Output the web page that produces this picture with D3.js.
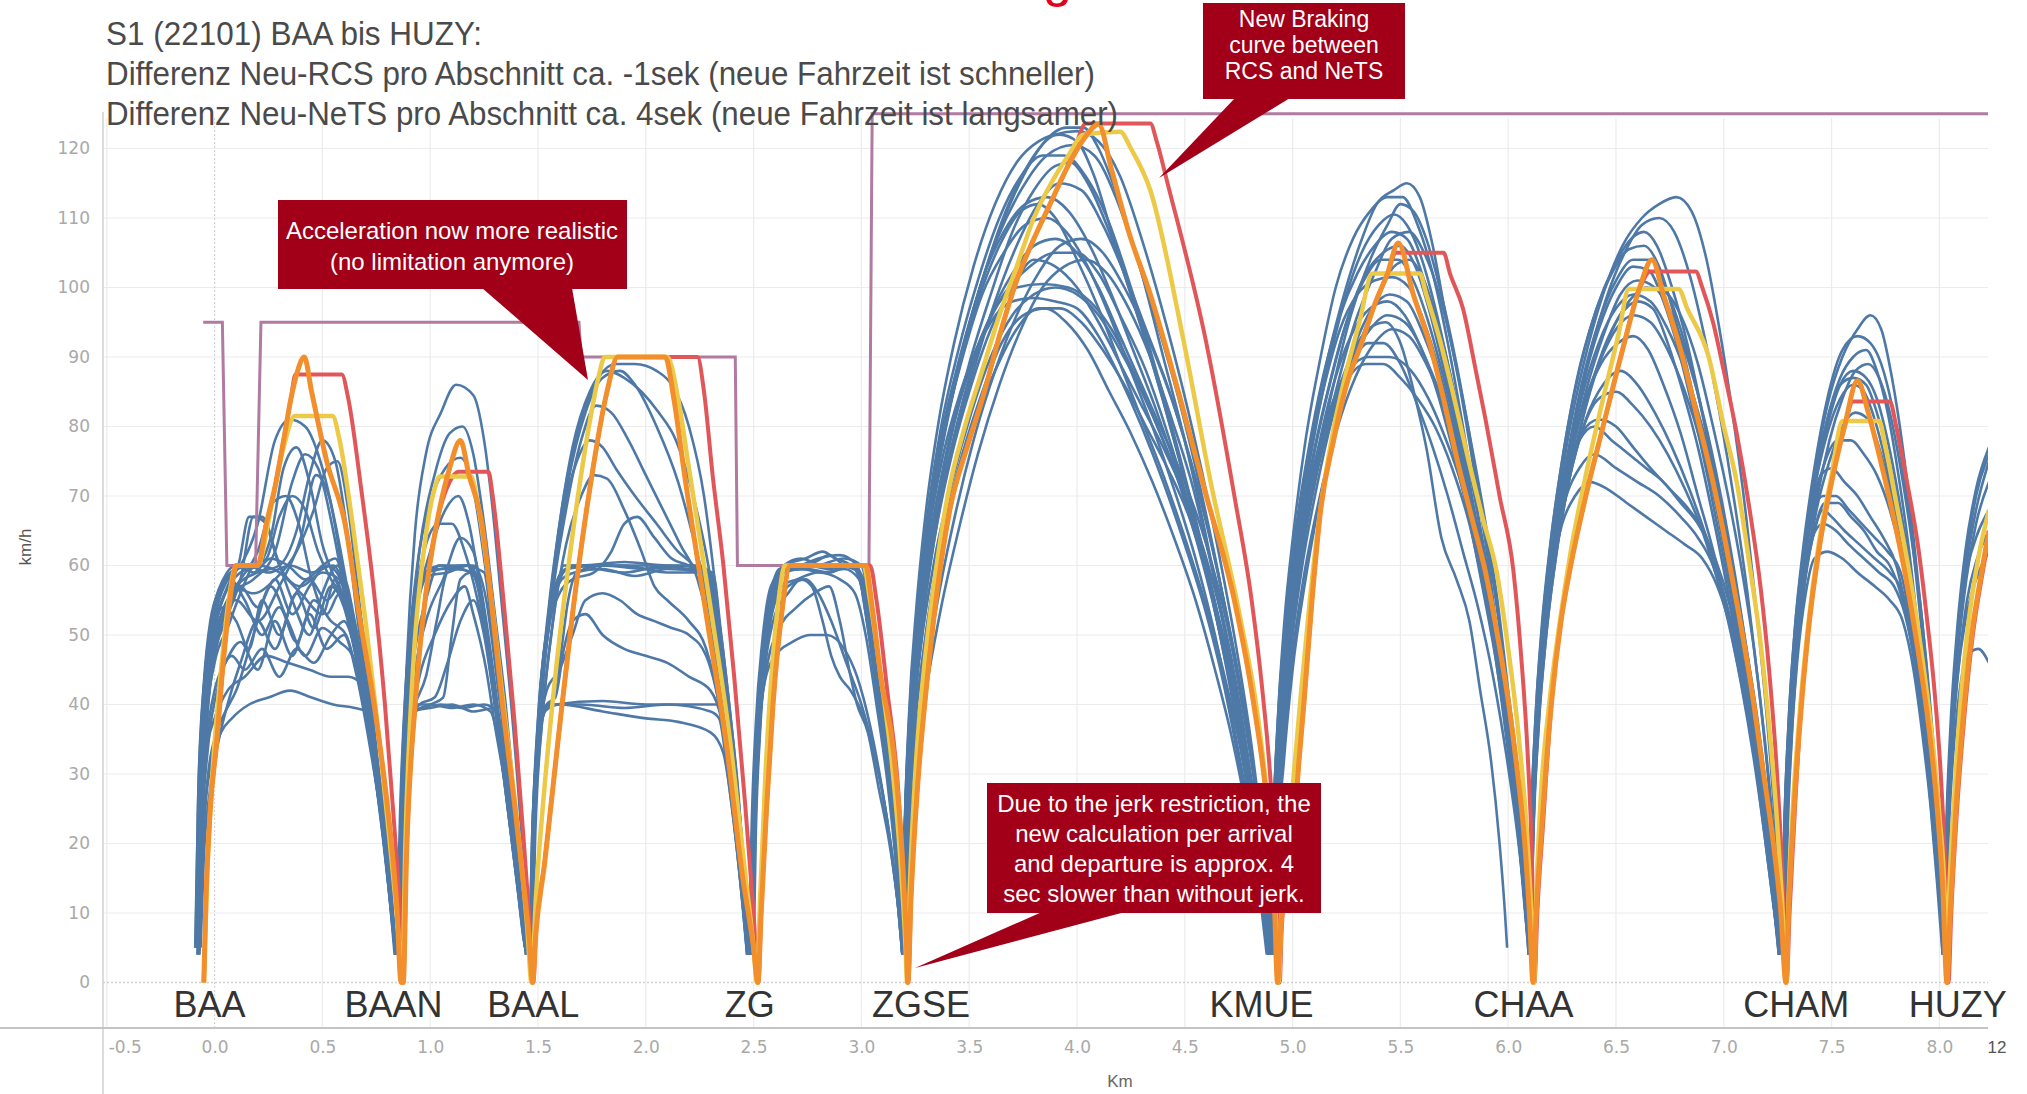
<!DOCTYPE html>
<html>
<head>
<meta charset="utf-8">
<script src="https://cdn.jsdelivr.net/npm/d3@7"></script>
<style>
  html, body { margin: 0; padding: 0; background: #fff; }
  svg { display: block; }
</style>
</head>
<body>
<svg id="chart" width="2027" height="1094"></svg>
<script>
// S1 speed profiles BAA -> HUZY, km vs km/h

const X_TICKS = [-0.5, 0, 0.5, 1, 1.5, 2, 2.5, 3, 3.5, 4, 4.5, 5, 5.5, 6, 6.5, 7, 7.5, 8];
const Y_TICKS = [0, 10, 20, 30, 40, 50, 60, 70, 80, 90, 100, 110, 120];

const stationNames = ['BAA', 'BAAN', 'BAAL', 'ZG', 'ZGSE', 'KMUE', 'CHAA', 'CHAM', 'HUZY'];
const stationLabelKm = [-0.024, 0.83, 1.478, 2.482, 3.276, 4.856, 6.071, 7.336, 8.085];

const titleLines = [
    'S1 (22101) BAA bis HUZY:',
    'Differenz Neu-RCS pro Abschnitt ca. -1sek (neue Fahrzeit ist schneller)',
    'Differenz Neu-NeTS pro Abschnitt ca. 4sek (neue Fahrzeit ist langsamer)'
];

// speed limit (purple)
const speedLimit = [[-0.053,95],[0.036,95],[0.057,60],[0.19,60],[0.215,95],[1.69,95],[1.70,90],[2.415,90],[2.425,60],[3.035,60],[3.05,125],[8.23,125]];

// calculated runs
const calcOrange = [
    [-0.05,0],[-0.04,12],[-0.02,25],[0.008,34],[0.04,46],[0.085,58],[0.1,60],[0.2,60],[0.24,66],[0.278,71],[0.32,78],[0.354,84],[0.385,88],[0.416,90],[0.45,85],[0.52,75],[0.605,66],[0.67,53],[0.74,40],[0.78,31],[0.817,21],[0.845,11],[0.865,0],
    [0.875,0],[0.89,18],[0.93,40],[0.98,56],[1.03,66],[1.09,74],[1.14,78],[1.18,73],[1.24,66],[1.29,53],[1.335,40],[1.39,26],[1.43,15],[1.46,6],[1.475,0],
    [1.49,7],[1.53,17],[1.59,34],[1.66,53],[1.74,71],[1.82,85],[1.87,90],[2.09,90],[2.13,84],[2.18,73],[2.28,53],[2.375,34],[2.45,15],[2.5,5],[2.52,0],
    [2.535,10],[2.56,25],[2.59,40],[2.63,53],[2.67,60],[3.02,60],[3.05,54],[3.09,44],[3.15,33],[3.19,18],[3.21,5],[3.215,0],
    [3.23,12],[3.26,28],[3.3,42],[3.35,56],[3.41,68],[3.49,77],[3.565,84.4],[3.64,93],[3.72,101],[3.8,107],[3.875,112],[3.95,117],[4.03,121.3],[4.1,123.5],[4.16,117],[4.24,108],[4.34,99],[4.47,85],[4.6,70],[4.73,55],[4.82,40],[4.88,26],[4.915,12],[4.93,0],
    [4.945,8],[4.97,14],[5.0,20],[5.03,32],[5.052,40],[5.09,55],[5.13,68],[5.19,78],[5.25,86],[5.32,92],[5.38,97.5],[5.44,102],[5.49,106.4],[5.56,99],[5.635,92],[5.7,84],[5.765,75],[5.83,67],[5.895,59],[5.95,50],[6.0,40.6],[6.04,31],[6.077,20],[6.1,9],[6.115,0],
    [6.13,10],[6.155,22],[6.2,40],[6.245,52],[6.29,60],[6.36,70],[6.44,80],[6.53,91],[6.61,100],[6.667,104],[6.72,99],[6.8,91],[6.88,81],[6.95,72],[7.01,63],[7.07,53],[7.13,42],[7.18,31],[7.23,20],[7.265,10],[7.288,0],
    [7.3,10],[7.32,22],[7.35,36],[7.39,50],[7.44,62],[7.5,72],[7.56,80],[7.62,86.6],[7.67,82],[7.72,76],[7.78,68],[7.84,59],[7.9,48],[7.95,37],[7.99,25],[8.015,14],[8.035,0],
    [8.05,10],[8.075,24],[8.11,38],[8.15,50],[8.19,58],[8.23,65]
];

const calcYellow = [
    [-0.05,0],[-0.035,15],[-0.01,30],[0.03,45],[0.07,56],[0.1,60],[0.2,60],[0.26,68],[0.32,77],[0.372,81.5],[0.547,81.5],[0.58,78],[0.64,66],[0.7,52],[0.76,36],[0.81,21],[0.85,8],[0.87,0],
    [0.885,20],[0.92,45],[0.97,62],[1.02,71],[1.045,72.8],[1.19,72.8],[1.22,69],[1.28,56],[1.34,40],[1.4,24],[1.45,8],[1.47,0],
    [1.49,12],[1.53,28],[1.58,44],[1.65,62],[1.72,77],[1.78,87],[1.81,90],[2.1,90],[2.15,84],[2.2,74],[2.3,54],[2.39,35],[2.46,16],[2.5,5],[2.515,0],
    [2.53,12],[2.555,30],[2.585,45],[2.62,56],[2.645,60],[3.01,60],[3.04,55],[3.09,44],[3.14,32],[3.18,18],[3.205,5],[3.212,0],
    [3.225,14],[3.25,30],[3.29,45],[3.34,58],[3.4,70],[3.48,80],[3.56,88],[3.64,96],[3.72,103],[3.8,110],[3.88,115],[3.96,119],[4.03,122],[4.2,122.4],[4.25,120],[4.34,114],[4.49,93],[4.62,72],[4.76,52],[4.84,38],[4.89,24],[4.92,11],[4.935,0],
    [4.95,12],[4.97,18],[5.0,28],[5.04,42],[5.08,55],[5.12,66],[5.18,78],[5.25,88],[5.31,95],[5.37,102],[5.59,102],[5.62,99],[5.687,92],[5.75,84],[5.817,75],[5.88,67],[5.947,59],[6.0,48],[6.05,35],[6.09,20],[6.11,8],[6.12,0],
    [6.13,12],[6.15,26],[6.19,40],[6.24,52],[6.29,62],[6.36,73],[6.44,84],[6.51,93],[6.56,99.8],[6.79,99.8],[6.83,97],[6.93,90],[7.0,80],[7.06,72],[7.12,60],[7.17,49],[7.21,37],[7.245,24],[7.27,12],[7.29,0],
    [7.3,12],[7.32,25],[7.35,38],[7.39,51],[7.44,63],[7.5,73],[7.55,80.8],[7.72,80.8],[7.75,77],[7.8,69],[7.86,59],[7.91,49],[7.96,37],[8.0,24],[8.025,12],[8.035,0],
    [8.045,12],[8.07,27],[8.1,41],[8.14,53],[8.18,61],[8.23,68]
];

const calcRed = [
    [-0.05,0],[-0.04,12],[-0.02,25],[0.008,34],[0.04,46],[0.085,58],[0.1,60],[0.2,60],[0.24,66],[0.278,71],[0.32,78],[0.354,84],[0.375,87.5],[0.59,87.5],[0.62,84],[0.68,71],[0.74,56],[0.79,40],[0.83,24],[0.86,10],[0.875,0],
    [0.89,18],[0.93,40],[0.98,56],[1.03,66],[1.09,72],[1.13,73.5],[1.27,73.5],[1.29,70],[1.34,55],[1.39,38],[1.43,22],[1.46,9],[1.478,0],
    [1.49,7],[1.53,17],[1.59,34],[1.66,53],[1.74,71],[1.82,85],[1.87,90],[2.24,90],[2.27,85],[2.31,73],[2.36,60],[2.41,44],[2.46,26],[2.5,10],[2.522,0],
    [2.535,10],[2.56,25],[2.59,40],[2.63,53],[2.67,60],[3.04,60],[3.07,55],[3.12,42],[3.17,28],[3.2,12],[3.218,0],
    [3.23,12],[3.26,28],[3.3,42],[3.35,56],[3.41,68],[3.49,77],[3.565,84.4],[3.64,93],[3.72,101],[3.8,107],[3.875,112],[3.95,117],[4.0,121],[4.04,123.6],[4.34,123.6],[4.37,121],[4.42,115],[4.6,92],[4.73,70],[4.81,55],[4.86,42],[4.9,28],[4.925,14],[4.94,0],
    [4.95,8],[4.97,14],[5.0,20],[5.03,32],[5.052,40],[5.09,55],[5.13,68],[5.19,78],[5.25,86],[5.32,92],[5.38,97.5],[5.44,102],[5.48,105],[5.7,105],[5.73,102],[5.79,97],[5.85,88],[5.895,81],[5.96,70],[6.025,59],[6.06,47],[6.09,33],[6.11,18],[6.122,0],
    [6.135,10],[6.16,22],[6.2,40],[6.245,52],[6.29,60],[6.36,70],[6.44,80],[6.53,91],[6.6,99],[6.66,102.3],[6.87,102.3],[6.9,100],[6.95,95],[7.0,88],[7.06,79],[7.12,68],[7.17,57],[7.21,45],[7.245,31],[7.27,17],[7.292,0],
    [7.305,10],[7.325,22],[7.35,36],[7.39,50],[7.44,62],[7.5,72],[7.56,80],[7.6,83.6],[7.77,83.6],[7.8,80],[7.85,72],[7.9,63],[7.94,53],[7.98,41],[8.01,28],[8.03,14],[8.042,0],
    [8.055,10],[8.08,24],[8.115,38],[8.155,50],[8.195,58],[8.23,64]
];

// measured runs (blue), one list per section
const measuredBaaBaan = [
    [[-0.085,5],[-0.07,28],[-0.05,42],[-0.02,51],[0.02,56],[0.08,59],[0.15,60],[0.25,59],[0.35,60],[0.45,59],[0.55,60],[0.6,57],[0.66,48],[0.72,36],[0.77,24],[0.81,13],[0.835,4]],
    [[-0.08,4],[-0.065,25],[-0.04,40],[-0.01,49],[0.04,54],[0.1,52],[0.16,48],[0.22,55],[0.3,50],[0.38,56],[0.46,51],[0.54,57],[0.6,54],[0.66,46],[0.72,35],[0.78,22],[0.82,11],[0.84,4]],
    [[-0.075,5],[-0.06,24],[-0.035,38],[0.0,47],[0.05,52],[0.12,58],[0.18,67],[0.24,66],[0.3,60],[0.4,57],[0.5,59],[0.58,58],[0.64,50],[0.7,40],[0.76,27],[0.81,14],[0.835,5]],
    [[-0.08,5],[-0.065,27],[-0.04,42],[0.0,52],[0.06,58],[0.12,60],[0.2,66],[0.28,78],[0.35,81],[0.42,80],[0.5,74],[0.56,66],[0.62,56],[0.68,45],[0.74,33],[0.79,20],[0.83,8],[0.845,4]],
    [[-0.07,5],[-0.055,26],[-0.03,41],[0.01,50],[0.08,56],[0.18,58],[0.28,62],[0.36,72],[0.42,76],[0.48,74],[0.55,65],[0.61,55],[0.67,45],[0.73,33],[0.78,21],[0.82,10],[0.84,4]],
    [[-0.08,5],[-0.06,30],[-0.03,44],[0.02,52],[0.1,55],[0.2,52],[0.3,57],[0.4,64],[0.47,73],[0.53,70],[0.59,60],[0.65,49],[0.71,37],[0.77,24],[0.82,10],[0.84,4]],
    [[-0.07,5],[-0.05,22],[-0.02,31],[0.03,36],[0.08,38],[0.16,40],[0.25,41],[0.35,42],[0.45,41],[0.55,40],[0.65,39.5],[0.71,39],[0.75,30],[0.79,20],[0.82,11],[0.84,4]],
    [[-0.075,4],[-0.06,22],[-0.035,35],[0.0,42],[0.05,46],[0.12,49],[0.2,45],[0.28,52],[0.36,47],[0.44,53],[0.52,48],[0.6,50],[0.66,44],[0.72,34],[0.78,22],[0.82,11],[0.84,4]],
    [[-0.078,5],[-0.06,26],[-0.035,40],[0.0,49],[0.06,55],[0.12,58],[0.2,62],[0.27,69],[0.33,70],[0.39,66],[0.45,58],[0.52,53],[0.58,56],[0.64,50],[0.7,40],[0.76,28],[0.81,14],[0.84,4]],
    [[-0.08,5],[-0.065,28],[-0.04,43],[0.0,51],[0.06,57],[0.11,60],[0.16,67],[0.22,67],[0.28,62],[0.36,55],[0.44,50],[0.5,56],[0.57,60],[0.62,55],[0.68,45],[0.74,32],[0.79,19],[0.83,7],[0.84,4]],
    [[-0.07,5],[-0.055,27],[-0.03,40],[0.02,50],[0.1,57],[0.2,59],[0.3,60],[0.38,65],[0.44,73],[0.5,78],[0.56,75],[0.61,66],[0.66,53],[0.72,40],[0.77,27],[0.81,15],[0.84,4]],
    [[-0.076,5],[-0.06,23],[-0.04,33],[0.0,38],[0.06,42],[0.14,44],[0.24,47],[0.34,46],[0.44,45],[0.54,44],[0.62,44],[0.68,43],[0.73,34],[0.78,23],[0.82,12],[0.84,4]],
    [[-0.082,5],[-0.065,28],[-0.04,42],[0.0,51],[0.08,57],[0.18,56],[0.28,58],[0.38,62],[0.46,68],[0.52,74],[0.57,75],[0.62,68],[0.67,55],[0.72,42],[0.77,28],[0.81,15],[0.835,5]],
    [[-0.09,5],[-0.075,28],[-0.05,43],[-0.02,52],[0.03,57],[0.1,59.5],[0.2,60],[0.3,59],[0.4,56],[0.5,53],[0.56,58],[0.62,52],[0.68,43],[0.74,31],[0.79,19],[0.825,8],[0.84,4]],
    [[-0.088,5],[-0.078,24],[-0.06,38],[-0.03,48],[0.01,54],[0.07,58],[0.14,55],[0.22,50],[0.3,54],[0.38,49],[0.46,55],[0.54,52],[0.61,50],[0.67,43],[0.73,33],[0.79,20],[0.83,8],[0.845,4]],
    [[-0.065,5],[-0.05,18],[-0.02,28],[0.02,35],[0.06,40],[0.12,46],[0.2,52],[0.28,48],[0.36,55],[0.44,58],[0.52,55],[0.6,58],[0.65,52],[0.71,41],[0.77,28],[0.81,16],[0.84,5]],
    [[-0.07,4],[-0.055,20],[-0.03,30],[0.01,36],[0.05,39],[0.1,42],[0.18,50],[0.26,57],[0.34,52],[0.42,47],[0.5,51],[0.58,49],[0.64,47],[0.7,40],[0.76,29],[0.8,18],[0.835,6]],
    [[-0.085,5],[-0.07,29],[-0.045,44],[-0.01,53],[0.04,58],[0.1,60],[0.18,59],[0.26,61],[0.34,60],[0.42,58],[0.5,60],[0.56,61],[0.61,56],[0.66,47],[0.72,35],[0.78,22],[0.825,9],[0.84,4]],
    [[-0.08,5],[-0.065,26],[-0.04,39],[0.0,48],[0.05,53],[0.12,57],[0.2,54],[0.28,58],[0.36,53],[0.44,57],[0.52,60],[0.6,57],[0.66,49],[0.72,38],[0.78,25],[0.82,13],[0.84,4]],
    [[-0.074,5],[-0.058,22],[-0.03,34],[0.02,43],[0.08,47],[0.14,45],[0.22,48],[0.3,44],[0.38,48],[0.46,46],[0.54,50],[0.6,52],[0.66,47],[0.72,38],[0.78,26],[0.82,13],[0.84,4]],
    [[-0.082,5],[-0.067,27],[-0.042,41],[-0.005,50],[0.05,56],[0.12,59],[0.2,60],[0.26,64],[0.32,74],[0.38,77],[0.44,72],[0.5,63],[0.56,58],[0.62,54],[0.68,45],[0.74,33],[0.79,20],[0.83,7],[0.84,4]],
    [[-0.078,5],[-0.062,25],[-0.038,38],[0.0,46],[0.06,51],[0.12,56],[0.18,60],[0.24,61],[0.3,67],[0.36,70],[0.42,68],[0.48,62],[0.54,58],[0.6,55],[0.66,48],[0.72,37],[0.78,24],[0.82,12],[0.84,4]]
];

const measuredBaanBaal = [
    [[0.85,4],[0.865,22],[0.89,45],[0.93,65],[0.98,76],[1.05,82],[1.12,86],[1.2,84.5],[1.25,78],[1.29,68],[1.33,55],[1.37,42],[1.41,27],[1.44,13],[1.455,4]],
    [[0.855,4],[0.87,24],[0.9,45],[0.95,62],[1.02,73],[1.09,79],[1.15,80],[1.2,76],[1.25,66],[1.3,53],[1.35,40],[1.39,27],[1.43,13],[1.45,4]],
    [[0.845,4],[0.86,24],[0.885,42],[0.92,53],[0.96,58],[1.0,59.5],[1.1,59.5],[1.2,59],[1.24,55],[1.28,46],[1.32,36],[1.36,26],[1.4,16],[1.43,8],[1.45,4]],
    [[0.85,4],[0.865,26],[0.89,44],[0.93,55],[0.98,59],[1.05,60],[1.15,59.5],[1.22,58],[1.26,51],[1.3,41],[1.34,31],[1.38,21],[1.42,11],[1.445,4]],
    [[0.855,4],[0.87,25],[0.9,43],[0.94,54],[0.99,58.5],[1.08,59],[1.18,60],[1.23,57],[1.27,49],[1.31,39],[1.35,29],[1.39,19],[1.43,9],[1.455,4]],
    [[0.848,4],[0.86,20],[0.88,33],[0.91,38.5],[0.96,39.5],[1.05,40],[1.15,39.5],[1.25,40],[1.31,39],[1.35,31],[1.39,21],[1.42,12],[1.445,4]],
    [[0.852,4],[0.865,22],[0.885,34],[0.92,39],[1.0,39.5],[1.1,40],[1.2,39],[1.3,39.5],[1.33,36],[1.37,26],[1.41,15],[1.44,6],[1.45,4]],
    [[0.85,4],[0.865,21],[0.89,34],[0.93,39],[1.0,40],[1.06,41],[1.1,50],[1.14,58],[1.19,59],[1.24,54],[1.28,45],[1.32,35],[1.36,25],[1.4,15],[1.44,5]],
    [[0.857,4],[0.872,25],[0.9,42],[0.94,54],[1.0,62],[1.07,68],[1.13,70],[1.18,66],[1.23,57],[1.28,46],[1.32,36],[1.36,26],[1.4,16],[1.435,6],[1.45,4]],
    [[0.852,4],[0.867,25],[0.895,45],[0.94,60],[1.0,69],[1.07,74],[1.14,75.5],[1.2,71],[1.25,61],[1.3,49],[1.34,38],[1.38,27],[1.42,15],[1.45,4]],
    [[0.86,4],[0.875,22],[0.9,35],[0.95,44],[1.02,50],[1.1,55],[1.16,57],[1.2,53],[1.26,45],[1.3,37],[1.35,28],[1.39,19],[1.43,9],[1.45,4]],
    [[0.853,4],[0.868,22],[0.89,35],[0.93,40],[0.98,44],[1.03,52],[1.08,59],[1.17,60],[1.22,57],[1.26,49],[1.3,40],[1.34,30],[1.38,20],[1.42,10],[1.445,4]],
    [[0.858,4],[0.873,25],[0.9,44],[0.94,55],[0.99,59],[1.05,59.5],[1.15,60],[1.25,59],[1.28,53],[1.32,43],[1.36,32],[1.4,21],[1.43,11],[1.455,4]],
    [[0.848,4],[0.862,22],[0.885,36],[0.92,40],[1.0,40],[1.1,39.5],[1.2,40],[1.28,39],[1.32,34],[1.36,25],[1.4,15],[1.435,6],[1.45,4]],
    [[0.855,4],[0.87,23],[0.895,38],[0.93,48],[0.98,55],[1.04,60],[1.12,60],[1.2,60],[1.26,55],[1.3,46],[1.34,36],[1.38,25],[1.42,13],[1.45,4]],
    [[0.85,4],[0.863,21],[0.885,33],[0.915,38],[0.95,40],[1.02,41],[1.08,46],[1.14,52],[1.2,55],[1.25,50],[1.29,42],[1.33,33],[1.37,24],[1.41,14],[1.44,5]],
    [[0.852,4],[0.866,24],[0.892,42],[0.93,55],[0.98,63],[1.04,66],[1.1,66],[1.16,62],[1.22,55],[1.27,47],[1.31,38],[1.35,28],[1.39,18],[1.43,8],[1.445,4]],
    [[0.856,4],[0.87,22],[0.895,36],[0.935,46],[0.99,53],[1.06,58],[1.14,64],[1.2,62],[1.25,54],[1.3,43],[1.34,33],[1.38,22],[1.42,11],[1.45,4]]
];

const measuredBaalZg = [
    [[1.465,4],[1.48,22],[1.51,40],[1.56,56],[1.62,70],[1.7,81],[1.78,87],[1.86,89],[1.95,89],[2.05,88],[2.12,86],[2.2,80],[2.27,70],[2.33,55],[2.38,40],[2.43,25],[2.47,11],[2.485,4]],
    [[1.47,4],[1.485,24],[1.52,42],[1.57,57],[1.64,72],[1.72,82],[1.8,87],[1.88,88],[1.95,86],[2.05,80],[2.15,72],[2.22,64],[2.28,56],[2.33,46],[2.38,35],[2.42,24],[2.46,12],[2.48,4]],
    [[1.468,4],[1.483,23],[1.515,40],[1.56,54],[1.63,68],[1.7,78],[1.77,83],[1.84,82],[1.92,78],[2.0,73],[2.08,68],[2.16,63],[2.24,58],[2.3,50],[2.35,40],[2.4,28],[2.44,16],[2.475,4]],
    [[1.47,4],[1.485,22],[1.52,38],[1.57,52],[1.63,63],[1.7,70],[1.76,73],[1.82,72.5],[1.9,68],[1.98,62],[2.04,57],[2.1,55],[2.2,52],[2.28,48],[2.34,40],[2.39,29],[2.43,17],[2.47,5]],
    [[1.462,4],[1.475,22],[1.5,38],[1.54,50],[1.58,57],[1.63,59.5],[1.8,60],[2.0,59.5],[2.2,60],[2.3,59],[2.34,52],[2.38,42],[2.42,30],[2.45,19],[2.475,8],[2.485,4]],
    [[1.466,4],[1.48,24],[1.505,40],[1.55,52],[1.6,58],[1.66,60],[1.9,59],[2.1,60],[2.28,59.5],[2.32,55],[2.36,46],[2.4,35],[2.44,22],[2.47,10],[2.48,4]],
    [[1.468,4],[1.482,23],[1.51,41],[1.56,54],[1.61,59],[1.7,60],[1.9,60],[2.1,59],[2.25,59],[2.3,56],[2.34,48],[2.38,38],[2.42,26],[2.46,13],[2.48,4]],
    [[1.46,4],[1.472,20],[1.49,32],[1.52,38],[1.56,40],[1.7,40],[1.9,39.5],[2.1,40],[2.3,39],[2.34,38],[2.38,30],[2.42,20],[2.45,11],[2.47,4]],
    [[1.464,4],[1.476,21],[1.495,33],[1.53,39],[1.6,40],[1.8,39],[2.0,38],[2.15,37.5],[2.3,36],[2.36,33],[2.4,25],[2.44,14],[2.47,4]],
    [[1.466,4],[1.478,21],[1.5,33],[1.54,40],[1.58,41],[1.62,48],[1.66,52],[1.72,53],[1.8,50],[1.9,48],[2.0,47],[2.1,46],[2.2,44],[2.3,42],[2.35,38],[2.4,28],[2.44,16],[2.47,5]],
    [[1.47,4],[1.485,23],[1.515,41],[1.56,56],[1.62,68],[1.68,75],[1.74,78],[1.8,77],[1.86,74],[1.95,70],[2.05,66],[2.15,62],[2.22,60],[2.28,57],[2.33,48],[2.38,37],[2.42,25],[2.46,12],[2.48,4]],
    [[1.463,4],[1.475,20],[1.495,32],[1.53,39],[1.57,41],[1.6,46],[1.64,55],[1.68,59],[1.8,60],[2.0,60],[2.2,59.5],[2.31,59],[2.35,50],[2.39,39],[2.43,27],[2.46,14],[2.48,4]],
    [[1.464,4],[1.478,22],[1.505,39],[1.55,54],[1.6,66],[1.66,77],[1.74,85],[1.82,88],[1.9,87],[1.98,85],[2.06,82],[2.14,78],[2.22,70],[2.29,60],[2.34,50],[2.39,37],[2.43,24],[2.47,9],[2.48,4]],
    [[1.472,4],[1.488,22],[1.52,38],[1.565,51],[1.62,60],[1.7,60],[1.9,60.5],[2.1,60],[2.25,60],[2.31,57],[2.35,49],[2.39,38],[2.43,26],[2.465,12],[2.48,4]],
    [[1.46,4],[1.473,21],[1.495,33],[1.53,39.5],[1.58,40],[1.8,40.5],[2.0,40],[2.2,40],[2.33,40],[2.37,35],[2.41,25],[2.44,15],[2.47,5]],
    [[1.467,4],[1.481,22],[1.508,39],[1.55,51],[1.6,56],[1.66,58],[1.76,59],[1.84,62],[1.9,66],[1.96,67],[2.04,64],[2.12,61],[2.2,60],[2.28,58],[2.33,50],[2.38,39],[2.42,27],[2.46,13],[2.48,4]],
    [[1.469,4],[1.484,23],[1.512,40],[1.555,52],[1.61,58],[1.67,59],[1.8,59.5],[1.95,58.5],[2.1,59.5],[2.26,59],[2.31,56],[2.35,48],[2.39,38],[2.43,25],[2.465,11],[2.48,4]],
    [[1.465,4],[1.479,21],[1.502,34],[1.54,42],[1.6,45],[1.66,50],[1.72,55],[1.8,56],[1.88,55],[1.96,53],[2.04,52],[2.12,51],[2.2,50],[2.28,47],[2.34,40],[2.39,30],[2.43,18],[2.465,6],[2.47,4]]
];

const measuredZgZgse = [
    [[2.485,4],[2.495,20],[2.515,35],[2.545,48],[2.58,56],[2.62,59.5],[2.7,60],[2.8,60],[2.9,60],[2.98,59.5],[3.02,53],[3.07,42],[3.12,30],[3.16,18],[3.185,8],[3.195,4]],
    [[2.49,4],[2.5,22],[2.52,37],[2.55,50],[2.59,57],[2.64,60],[2.72,61],[2.78,60.5],[2.85,61.5],[2.92,60],[2.99,59],[3.03,52],[3.08,41],[3.13,29],[3.17,16],[3.19,6],[3.2,4]],
    [[2.48,4],[2.49,21],[2.51,37],[2.54,49],[2.58,57],[2.63,59],[2.75,59.5],[2.85,59],[2.95,60],[3.0,57],[3.05,47],[3.1,36],[3.14,25],[3.175,13],[3.19,4]],
    [[2.495,4],[2.505,20],[2.525,35],[2.56,48],[2.6,56],[2.65,59.5],[2.8,60],[2.92,61],[3.0,60],[3.04,54],[3.09,43],[3.14,31],[3.18,17],[3.2,6],[3.205,4]],
    [[2.49,4],[2.5,20],[2.52,34],[2.56,45],[2.62,51],[2.7,54],[2.78,56],[2.85,57],[2.9,52],[2.95,44],[2.98,40],[3.03,36],[3.08,28],[3.13,20],[3.17,11],[3.19,4]],
    [[2.487,4],[2.497,19],[2.517,33],[2.55,43],[2.6,47],[2.68,49],[2.76,50],[2.84,50],[2.92,48],[2.98,44],[3.04,37],[3.09,29],[3.14,19],[3.17,11],[3.19,4]],
    [[2.5,4],[2.51,21],[2.53,36],[2.565,49],[2.61,57],[2.66,60],[2.75,60],[2.85,59.5],[2.95,60],[3.01,58],[3.05,50],[3.1,39],[3.15,26],[3.185,12],[3.2,4]],
    [[2.482,4],[2.492,20],[2.512,35],[2.545,47],[2.59,54],[2.66,57],[2.74,58],[2.8,56],[2.86,52],[2.93,46],[3.0,40],[3.06,33],[3.11,25],[3.15,16],[3.18,8],[3.19,4]],
    [[2.488,4],[2.498,21],[2.518,36],[2.55,49],[2.59,56],[2.63,59],[2.72,59.5],[2.82,59],[2.92,59.5],[2.99,58],[3.03,51],[3.08,40],[3.13,28],[3.17,15],[3.19,6],[3.195,4]],
    [[2.492,4],[2.502,21],[2.522,36],[2.555,49],[2.595,57],[2.64,60],[2.74,61],[2.82,62],[2.88,61],[2.95,60],[3.0,58],[3.04,52],[3.09,41],[3.14,29],[3.18,15],[3.2,4]],
    [[2.483,4],[2.493,20],[2.513,34],[2.545,46],[2.585,53],[2.63,57],[2.7,58],[2.8,59],[2.9,58],[2.97,56],[3.02,50],[3.07,40],[3.12,29],[3.16,17],[3.185,7],[3.19,4]],
    [[2.497,4],[2.507,21],[2.528,36],[2.562,49],[2.605,57],[2.655,60],[2.76,60],[2.86,60],[2.96,60],[3.02,57],[3.06,49],[3.11,38],[3.16,25],[3.19,11],[3.2,4]],
    [[2.49,4],[2.5,20],[2.52,35],[2.555,46],[2.6,53],[2.66,56],[2.72,58],[2.77,57],[2.82,52],[2.86,47],[2.9,44],[2.95,42],[3.0,39],[3.05,34],[3.1,27],[3.14,19],[3.17,11],[3.19,4]],
    [[2.486,4],[2.496,20],[2.516,35],[2.55,48],[2.59,55],[2.64,59],[2.72,60],[2.8,61],[2.9,61.5],[2.98,60],[3.02,55],[3.07,44],[3.12,32],[3.16,20],[3.185,9],[3.195,4]]
];

const measuredZgseKmue = [
    [[3.19,4],[3.2,20],[3.22,36],[3.26,52],[3.31,66],[3.38,79],[3.46,90],[3.55,100],[3.65,109],[3.75,116],[3.85,121],[3.95,123],[4.03,123],[4.1,120],[4.2,112],[4.3,102],[4.4,90],[4.5,78],[4.6,64],[4.7,48],[4.78,34],[4.84,21],[4.88,10],[4.9,4]],
    [[3.195,4],[3.205,21],[3.23,38],[3.27,54],[3.33,69],[3.4,81],[3.48,92],[3.57,102],[3.67,111],[3.78,118],[3.9,122],[4.0,122.5],[4.1,121],[4.2,116],[4.3,107],[4.42,94],[4.54,79],[4.65,63],[4.74,48],[4.81,34],[4.86,21],[4.9,9],[4.915,4]],
    [[3.2,4],[3.21,20],[3.235,36],[3.28,52],[3.34,66],[3.42,79],[3.5,89],[3.6,99],[3.7,108],[3.8,114],[3.9,117.5],[3.97,118],[4.05,115],[4.15,108],[4.25,99],[4.35,89],[4.45,78],[4.55,66],[4.65,52],[4.73,39],[4.8,26],[4.86,13],[4.895,4]],
    [[3.19,4],[3.2,20],[3.225,37],[3.265,53],[3.32,67],[3.39,80],[3.47,90],[3.56,99],[3.66,105],[3.76,109],[3.86,110],[3.95,108],[4.05,103],[4.15,96],[4.25,88],[4.35,80],[4.45,71],[4.55,61],[4.64,50],[4.72,38],[4.79,26],[4.85,14],[4.89,4]],
    [[3.195,4],[3.205,20],[3.23,36],[3.27,52],[3.33,66],[3.41,78],[3.5,88],[3.6,95],[3.7,98],[3.8,98.5],[3.9,98],[4.0,97],[4.1,93],[4.2,87],[4.3,80],[4.4,72],[4.5,63],[4.6,53],[4.68,43],[4.75,32],[4.82,20],[4.87,9],[4.89,4]],
    [[3.2,4],[3.21,20],[3.235,37],[3.28,53],[3.34,67],[3.42,80],[3.52,90],[3.62,97],[3.72,100],[3.84,100.5],[3.96,100],[4.06,98],[4.16,94],[4.26,88],[4.36,81],[4.46,73],[4.56,63],[4.65,52],[4.73,40],[4.8,28],[4.86,15],[4.9,4]],
    [[3.205,4],[3.215,20],[3.24,36],[3.285,52],[3.35,66],[3.43,78],[3.52,88],[3.62,98],[3.72,106],[3.82,112],[3.92,115],[4.02,114],[4.12,109],[4.22,102],[4.32,94],[4.44,84],[4.56,71],[4.66,58],[4.75,44],[4.82,30],[4.87,16],[4.905,4]],
    [[3.195,4],[3.205,21],[3.23,38],[3.27,54],[3.32,66],[3.38,76],[3.46,85],[3.56,93],[3.66,99],[3.78,103],[3.9,105],[4.0,105],[4.1,102],[4.2,96],[4.32,88],[4.44,77],[4.56,64],[4.66,51],[4.74,39],[4.81,27],[4.86,15],[4.9,4]],
    [[3.19,4],[3.2,21],[3.22,37],[3.255,52],[3.3,65],[3.36,77],[3.44,88],[3.53,98],[3.63,107],[3.74,114],[3.86,119],[3.98,120.5],[4.08,119],[4.18,113],[4.28,104],[4.38,94],[4.48,83],[4.58,70],[4.68,55],[4.76,41],[4.83,27],[4.88,13],[4.91,4]],
    [[3.2,4],[3.21,19],[3.24,34],[3.29,48],[3.36,62],[3.45,74],[3.55,84],[3.65,92],[3.75,96],[3.85,97],[3.95,95],[4.05,91],[4.15,85],[4.25,79],[4.35,72],[4.45,64],[4.55,55],[4.64,45],[4.72,35],[4.79,24],[4.85,12],[4.88,4]],
    [[3.19,4],[3.2,20],[3.22,36],[3.255,51],[3.3,64],[3.37,77],[3.45,88],[3.54,98],[3.64,106],[3.74,111],[3.82,112],[3.9,110],[4.0,104],[4.1,97],[4.2,89],[4.3,81],[4.4,73],[4.5,64],[4.6,54],[4.7,42],[4.78,30],[4.84,17],[4.885,4]],
    [[3.205,4],[3.215,19],[3.245,33],[3.3,45],[3.36,56],[3.44,68],[3.52,78],[3.62,88],[3.72,96],[3.82,102],[3.92,106],[4.02,107],[4.12,105],[4.22,100],[4.34,92],[4.46,82],[4.58,69],[4.68,55],[4.76,42],[4.83,28],[4.88,14],[4.91,4]],
    [[3.195,4],[3.205,19],[3.23,34],[3.275,48],[3.34,61],[3.42,72],[3.51,82],[3.6,90],[3.7,96],[3.8,99],[3.9,100],[4.0,99],[4.1,96],[4.2,91],[4.3,85],[4.4,78],[4.5,70],[4.6,60],[4.68,49],[4.76,37],[4.82,25],[4.87,12],[4.89,4]],
    [[3.19,4],[3.2,21],[3.22,38],[3.255,54],[3.3,68],[3.36,81],[3.43,92],[3.52,103],[3.62,112],[3.72,118],[3.82,121],[3.92,122],[4.0,121],[4.08,116],[4.16,108],[4.26,98],[4.36,88],[4.46,77],[4.56,65],[4.65,52],[4.73,40],[4.8,27],[4.86,13],[4.89,4]],
    [[3.2,4],[3.21,20],[3.235,36],[3.28,51],[3.34,64],[3.42,76],[3.51,86],[3.6,94],[3.7,100],[3.8,104],[3.9,103],[4.0,100],[4.1,95],[4.2,89],[4.3,83],[4.4,77],[4.5,70],[4.6,61],[4.69,50],[4.77,37],[4.83,24],[4.88,11],[4.9,4]],
    [[3.21,4],[3.22,18],[3.25,31],[3.3,42],[3.37,54],[3.45,65],[3.54,76],[3.64,86],[3.74,94],[3.84,100],[3.94,103],[4.04,104],[4.14,102],[4.24,97],[4.34,90],[4.44,81],[4.54,71],[4.63,59],[4.72,46],[4.79,33],[4.85,20],[4.89,8],[4.905,4]],
    [[3.195,4],[3.205,20],[3.23,37],[3.27,53],[3.32,67],[3.39,80],[3.47,91],[3.56,101],[3.66,108],[3.76,112],[3.86,113],[3.96,111],[4.06,106],[4.16,99],[4.26,91],[4.36,83],[4.46,74],[4.56,64],[4.65,53],[4.73,41],[4.8,29],[4.86,15],[4.895,4]],
    [[3.2,4],[3.21,20],[3.232,36],[3.272,51],[3.33,64],[3.41,76],[3.5,87],[3.6,96],[3.7,102],[3.8,106],[3.9,107],[4.0,105],[4.1,100],[4.2,93],[4.3,86],[4.4,79],[4.5,72],[4.6,63],[4.7,51],[4.78,38],[4.84,25],[4.88,12],[4.9,4]],
    [[3.192,4],[3.202,21],[3.225,38],[3.262,54],[3.31,68],[3.37,80],[3.45,91],[3.54,101],[3.64,110],[3.74,116],[3.84,119],[3.94,119],[4.04,116],[4.14,110],[4.24,101],[4.34,91],[4.44,80],[4.54,68],[4.63,56],[4.71,44],[4.78,32],[4.84,19],[4.88,7],[4.89,4]],
    [[3.205,4],[3.215,19],[3.24,34],[3.29,48],[3.35,60],[3.43,71],[3.52,80],[3.62,88],[3.72,94],[3.82,97],[3.92,97],[4.02,95],[4.12,91],[4.22,86],[4.32,80],[4.42,74],[4.52,67],[4.61,58],[4.7,47],[4.77,36],[4.83,23],[4.87,11],[4.89,4]]
];

const measuredKmueChaa = [
    [[4.9,4],[4.91,20],[4.935,36],[4.97,50],[5.02,64],[5.08,77],[5.15,88],[5.23,98],[5.31,106],[5.39,112],[5.47,114],[5.53,115],[5.59,113],[5.65,106],[5.71,96],[5.78,85],[5.85,72],[5.91,60],[5.96,47],[6.01,34],[6.05,22],[6.08,11],[6.1,4]],
    [[4.905,4],[4.915,20],[4.94,37],[4.975,51],[5.025,64],[5.085,76],[5.16,88],[5.24,98],[5.32,105],[5.4,109],[5.47,110.5],[5.53,109],[5.6,104],[5.67,96],[5.74,86],[5.81,74],[5.88,61],[5.94,49],[5.99,37],[6.04,24],[6.075,12],[6.1,4]],
    [[4.91,4],[4.92,20],[4.945,36],[4.98,50],[5.03,63],[5.1,76],[5.18,87],[5.26,96],[5.34,102],[5.42,105],[5.5,106],[5.57,103],[5.64,96],[5.71,87],[5.78,77],[5.85,65],[5.92,52],[5.98,39],[6.03,26],[6.07,14],[6.095,4]],
    [[4.9,4],[4.91,21],[4.93,37],[4.965,51],[5.01,63],[5.07,75],[5.14,85],[5.22,94],[5.3,99],[5.38,101],[5.46,101.5],[5.54,100],[5.61,95],[5.68,88],[5.75,79],[5.82,68],[5.89,57],[5.95,45],[6.0,33],[6.05,20],[6.085,8],[6.1,4]],
    [[4.91,4],[4.92,19],[4.945,34],[4.985,48],[5.04,61],[5.11,73],[5.19,83],[5.28,90],[5.36,94],[5.44,96],[5.52,95],[5.6,91],[5.67,85],[5.74,77],[5.81,68],[5.88,57],[5.95,45],[6.0,34],[6.05,21],[6.085,9],[6.1,4]],
    [[4.905,4],[4.915,20],[4.94,35],[4.98,49],[5.03,62],[5.1,74],[5.18,83],[5.27,89],[5.35,92],[5.42,92],[5.5,89],[5.58,83],[5.65,77],[5.72,70],[5.79,62],[5.86,54],[5.93,44],[5.99,33],[6.04,22],[6.08,11],[6.1,4]],
    [[4.91,4],[4.92,19],[4.945,35],[4.98,48],[5.03,60],[5.1,72],[5.18,82],[5.27,90],[5.35,94],[5.43,95],[5.5,92],[5.57,84],[5.62,77],[5.69,64],[5.76,58],[5.82,52],[5.87,42],[5.92,32],[5.96,20],[5.985,10],[5.995,5]],
    [[4.915,4],[4.925,19],[4.95,35],[4.99,49],[5.045,62],[5.11,74],[5.19,86],[5.27,96],[5.36,104],[5.44,109],[5.5,112],[5.56,111],[5.62,107],[5.69,99],[5.76,89],[5.83,77],[5.9,64],[5.96,51],[6.01,38],[6.055,25],[6.09,12],[6.11,4]],
    [[4.92,4],[4.93,18],[4.96,32],[5.0,45],[5.06,58],[5.13,70],[5.21,81],[5.3,91],[5.39,98],[5.47,103],[5.54,104],[5.61,101],[5.68,94],[5.75,85],[5.82,74],[5.89,62],[5.95,50],[6.0,38],[6.05,25],[6.085,12],[6.105,4]],
    [[4.9,4],[4.91,20],[4.935,36],[4.97,49],[5.02,61],[5.09,73],[5.17,82],[5.26,88],[5.35,90],[5.45,90],[5.55,88],[5.63,84],[5.7,79],[5.77,73],[5.84,65],[5.91,55],[5.97,44],[6.02,32],[6.06,20],[6.09,9],[6.105,4]],
    [[4.9,4],[4.91,21],[4.932,37],[4.965,51],[5.01,64],[5.07,76],[5.14,87],[5.22,96],[5.3,102],[5.38,106],[5.46,108],[5.53,107],[5.6,102],[5.67,94],[5.74,84],[5.81,73],[5.88,61],[5.94,49],[5.99,37],[6.04,24],[6.08,11],[6.1,4]],
    [[4.915,4],[4.925,18],[4.955,33],[4.995,46],[5.05,58],[5.12,69],[5.2,79],[5.29,87],[5.38,92],[5.46,94],[5.54,93],[5.62,89],[5.7,83],[5.78,75],[5.86,65],[5.93,53],[5.99,41],[6.04,28],[6.08,15],[6.1,4]],
    [[4.905,4],[4.915,20],[4.94,36],[4.975,50],[5.025,63],[5.09,75],[5.17,86],[5.25,95],[5.33,101],[5.41,104],[5.49,104],[5.56,101],[5.63,95],[5.7,87],[5.77,78],[5.84,68],[5.91,56],[5.97,44],[6.02,31],[6.065,18],[6.095,6],[6.1,4]],
    [[4.91,4],[4.92,20],[4.944,35],[4.98,49],[5.03,61],[5.1,72],[5.18,81],[5.26,87],[5.34,89],[5.42,89],[5.5,87],[5.58,84],[5.66,80],[5.74,74],[5.82,66],[5.89,56],[5.95,46],[6.01,34],[6.05,22],[6.09,9],[6.1,4]],
    [[4.9,4],[4.91,21],[4.932,38],[4.962,52],[5.005,65],[5.06,78],[5.13,90],[5.2,100],[5.28,107],[5.36,111],[5.44,113],[5.51,113],[5.58,109],[5.65,102],[5.72,92],[5.79,80],[5.86,67],[5.92,54],[5.98,41],[6.03,27],[6.07,14],[6.095,4]],
    [[4.92,4],[4.93,19],[4.955,34],[4.99,47],[5.04,59],[5.11,71],[5.19,82],[5.28,91],[5.37,97],[5.45,99],[5.53,98],[5.61,93],[5.69,86],[5.77,77],[5.85,66],[5.92,54],[5.98,42],[6.03,30],[6.07,18],[6.1,6],[6.11,4]],
    [[4.908,4],[4.918,20],[4.942,35],[4.978,49],[5.03,62],[5.1,74],[5.18,85],[5.27,93],[5.36,97],[5.44,98],[5.52,96],[5.6,91],[5.68,85],[5.76,77],[5.83,69],[5.9,59],[5.96,48],[6.01,36],[6.055,23],[6.09,10],[6.1,4]],
    [[4.912,4],[4.922,19],[4.947,34],[4.985,48],[5.04,61],[5.11,73],[5.2,85],[5.29,95],[5.38,102],[5.46,107],[5.54,108],[5.61,105],[5.68,99],[5.75,90],[5.82,79],[5.89,67],[5.95,55],[6.0,42],[6.05,29],[6.09,14],[6.105,4]]
];

const measuredChaaCham = [
    [[6.1,4],[6.11,20],[6.13,36],[6.165,51],[6.21,64],[6.27,77],[6.35,89],[6.44,99],[6.53,106],[6.62,110],[6.7,112],[6.78,113],[6.85,111],[6.92,104],[6.98,94],[7.04,82],[7.1,68],[7.15,54],[7.2,38],[7.24,22],[7.265,10],[7.28,4]],
    [[6.095,4],[6.105,21],[6.125,37],[6.16,52],[6.2,64],[6.26,77],[6.33,88],[6.41,97],[6.49,103],[6.57,107],[6.63,108],[6.69,106],[6.76,100],[6.83,92],[6.9,82],[6.97,71],[7.04,58],[7.1,46],[7.16,33],[7.21,20],[7.25,9],[7.27,4]],
    [[6.1,4],[6.11,20],[6.13,35],[6.165,49],[6.21,62],[6.27,74],[6.34,85],[6.42,94],[6.5,100],[6.58,103],[6.65,102.5],[6.72,98],[6.79,91],[6.86,82],[6.93,72],[7.0,61],[7.07,49],[7.13,37],[7.18,25],[7.23,13],[7.26,4]],
    [[6.105,4],[6.115,19],[6.135,34],[6.17,48],[6.22,61],[6.28,72],[6.36,83],[6.44,91],[6.52,96],[6.6,98],[6.67,97],[6.74,92],[6.81,85],[6.88,77],[6.95,67],[7.02,56],[7.08,45],[7.14,33],[7.19,21],[7.24,9],[7.265,4]],
    [[6.1,4],[6.11,20],[6.13,36],[6.165,50],[6.21,62],[6.27,73],[6.35,83],[6.43,89],[6.51,92],[6.58,93],[6.65,91],[6.72,86],[6.8,79],[6.88,70],[6.96,61],[7.03,51],[7.1,40],[7.16,29],[7.21,17],[7.25,7],[7.26,4]],
    [[6.095,4],[6.105,20],[6.125,35],[6.16,49],[6.2,60],[6.26,69],[6.33,74],[6.4,76],[6.5,74],[6.6,72],[6.7,70],[6.8,67],[6.88,64],[6.95,60],[7.02,52],[7.08,43],[7.14,32],[7.19,21],[7.235,10],[7.26,4]],
    [[6.1,4],[6.11,20],[6.13,36],[6.165,51],[6.21,63],[6.27,73],[6.34,79],[6.42,81],[6.5,80],[6.58,77],[6.66,74],[6.75,71],[6.84,68],[6.92,64],[6.99,57],[7.05,49],[7.11,39],[7.17,28],[7.22,16],[7.255,6],[7.265,4]],
    [[6.105,4],[6.115,20],[6.14,36],[6.18,51],[6.23,63],[6.3,75],[6.38,85],[6.47,93],[6.56,98],[6.64,100],[6.72,99.5],[6.8,96],[6.88,89],[6.95,80],[7.02,70],[7.08,60],[7.14,48],[7.19,35],[7.23,22],[7.26,10],[7.275,4]],
    [[6.1,4],[6.11,20],[6.13,35],[6.165,49],[6.21,61],[6.28,72],[6.36,81],[6.44,86],[6.52,88],[6.6,86],[6.68,82],[6.76,77],[6.84,71],[6.92,64],[7.0,56],[7.07,47],[7.13,37],[7.18,26],[7.22,15],[7.25,6],[7.26,4]],
    [[6.095,4],[6.105,21],[6.125,37],[6.155,51],[6.195,63],[6.25,75],[6.32,87],[6.4,96],[6.48,102],[6.56,105.5],[6.63,106],[6.7,103],[6.77,96],[6.84,87],[6.91,77],[6.98,66],[7.05,54],[7.11,42],[7.17,30],[7.22,17],[7.255,6],[7.27,4]],
    [[6.1,4],[6.11,20],[6.13,36],[6.165,50],[6.21,63],[6.27,75],[6.34,86],[6.42,95],[6.5,101],[6.58,104],[6.66,104],[6.73,100],[6.8,94],[6.87,86],[6.94,76],[7.01,65],[7.07,53],[7.13,41],[7.18,29],[7.22,17],[7.255,6],[7.265,4]],
    [[6.102,4],[6.112,20],[6.133,35],[6.168,49],[6.215,61],[6.28,72],[6.35,80],[6.42,84],[6.5,85],[6.58,83],[6.66,80],[6.74,76],[6.82,71],[6.9,65],[6.97,58],[7.04,50],[7.1,41],[7.16,30],[7.21,18],[7.245,7],[7.255,4]],
    [[6.098,4],[6.108,20],[6.128,35],[6.16,49],[6.2,59],[6.25,66],[6.31,70],[6.38,72],[6.46,71],[6.55,69],[6.64,67],[6.73,65],[6.82,63],[6.9,61],[6.97,57],[7.04,50],[7.1,41],[7.16,30],[7.21,19],[7.245,8],[7.255,4]],
    [[6.105,4],[6.115,20],[6.137,36],[6.172,51],[6.22,64],[6.28,76],[6.36,88],[6.45,98],[6.54,105],[6.62,109],[6.7,110],[6.77,108],[6.84,102],[6.91,93],[6.98,82],[7.05,69],[7.11,56],[7.16,43],[7.21,28],[7.245,14],[7.27,4]],
    [[6.1,4],[6.11,20],[6.13,35],[6.165,49],[6.21,61],[6.27,73],[6.34,84],[6.42,92],[6.5,97],[6.58,99],[6.66,98],[6.74,94],[6.82,88],[6.9,80],[6.97,71],[7.04,60],[7.1,49],[7.16,37],[7.21,24],[7.25,11],[7.265,4]],
    [[6.097,4],[6.107,20],[6.127,35],[6.16,49],[6.205,61],[6.26,71],[6.33,78],[6.4,80],[6.48,78],[6.56,76],[6.64,74],[6.72,72],[6.8,69],[6.88,66],[6.96,61],[7.03,54],[7.09,45],[7.15,34],[7.2,22],[7.24,10],[7.255,4]],
    [[6.103,4],[6.113,20],[6.134,36],[6.17,50],[6.218,62],[6.28,74],[6.36,85],[6.44,93],[6.52,99],[6.6,101],[6.68,100],[6.76,96],[6.84,89],[6.91,81],[6.98,71],[7.05,59],[7.11,47],[7.17,34],[7.22,21],[7.255,9],[7.27,4]],
    [[6.1,4],[6.11,20],[6.13,35],[6.165,49],[6.21,61],[6.27,72],[6.34,82],[6.42,89],[6.5,94],[6.58,96],[6.66,95],[6.74,91],[6.82,85],[6.9,77],[6.97,68],[7.04,58],[7.1,47],[7.16,35],[7.21,23],[7.25,10],[7.265,4]]
];

const measuredChamHuzy = [
    [[7.27,4],[7.28,20],[7.3,36],[7.33,50],[7.37,62],[7.42,73],[7.48,83],[7.55,90],[7.62,94],[7.68,96],[7.73,94],[7.78,87],[7.83,77],[7.88,64],[7.92,52],[7.96,38],[7.99,24],[8.015,12],[8.03,4]],
    [[7.275,4],[7.285,20],[7.305,36],[7.335,50],[7.375,62],[7.425,72],[7.48,81],[7.54,87],[7.6,90],[7.66,91],[7.71,88],[7.76,82],[7.81,73],[7.86,62],[7.9,51],[7.94,39],[7.98,25],[8.01,12],[8.025,4]],
    [[7.27,4],[7.28,21],[7.3,37],[7.33,51],[7.37,62],[7.42,71],[7.48,79],[7.54,84],[7.6,86],[7.65,85],[7.7,81],[7.75,75],[7.8,67],[7.85,57],[7.9,46],[7.94,34],[7.98,21],[8.01,9],[8.02,4]],
    [[7.28,4],[7.29,20],[7.31,35],[7.34,48],[7.38,59],[7.43,68],[7.49,75],[7.55,80],[7.61,82],[7.67,81],[7.72,77],[7.77,71],[7.82,63],[7.87,53],[7.91,43],[7.95,32],[7.99,19],[8.015,8],[8.025,4]],
    [[7.275,4],[7.285,20],[7.305,35],[7.335,49],[7.37,60],[7.41,68],[7.45,73],[7.5,74],[7.56,72],[7.62,70],[7.68,67],[7.74,64],[7.8,60],[7.85,53],[7.9,44],[7.94,33],[7.98,20],[8.01,9],[8.02,4]],
    [[7.27,4],[7.28,20],[7.3,35],[7.33,48],[7.37,58],[7.41,64],[7.46,66],[7.52,65],[7.58,63],[7.65,61],[7.72,59],[7.79,57],[7.84,53],[7.89,45],[7.93,35],[7.97,23],[8.0,12],[8.02,4]],
    [[7.28,4],[7.29,19],[7.31,33],[7.34,46],[7.38,56],[7.42,61],[7.48,62],[7.55,61],[7.62,59],[7.7,57],[7.77,55],[7.83,52],[7.88,45],[7.92,36],[7.96,25],[7.99,14],[8.015,4]],
    [[7.285,4],[7.295,20],[7.315,35],[7.345,49],[7.385,60],[7.435,70],[7.49,78],[7.55,84],[7.61,88],[7.67,89],[7.72,87],[7.77,82],[7.82,74],[7.87,64],[7.92,52],[7.96,39],[7.995,25],[8.02,12],[8.035,4]],
    [[7.272,4],[7.282,20],[7.302,35],[7.332,49],[7.37,60],[7.41,67],[7.46,70],[7.52,70],[7.58,68],[7.64,66],[7.7,64],[7.76,62],[7.82,59],[7.87,51],[7.91,42],[7.95,31],[7.985,18],[8.01,8],[8.02,4]],
    [[7.273,4],[7.283,20],[7.303,36],[7.333,50],[7.373,61],[7.42,71],[7.48,80],[7.54,86],[7.6,88],[7.66,87],[7.71,84],[7.76,78],[7.81,70],[7.86,60],[7.9,49],[7.94,37],[7.98,23],[8.01,10],[8.02,4]],
    [[7.278,4],[7.288,20],[7.308,35],[7.338,48],[7.376,58],[7.42,65],[7.47,69],[7.53,69],[7.59,67],[7.65,65],[7.71,62],[7.77,60],[7.82,56],[7.87,49],[7.91,40],[7.95,29],[7.985,17],[8.01,7],[8.015,4]],
    [[7.27,4],[7.28,21],[7.3,37],[7.33,51],[7.37,63],[7.42,74],[7.48,84],[7.55,91],[7.62,93],[7.68,92],[7.73,89],[7.78,83],[7.83,74],[7.88,62],[7.92,50],[7.96,37],[7.99,23],[8.015,11],[8.028,4]],
    [[7.276,4],[7.286,20],[7.306,35],[7.336,49],[7.374,60],[7.42,69],[7.47,75],[7.53,78],[7.59,78],[7.65,76],[7.71,73],[7.77,68],[7.82,62],[7.87,54],[7.91,45],[7.95,34],[7.985,21],[8.01,10],[8.02,4]],
    [[7.28,4],[7.29,20],[7.31,35],[7.34,48],[7.378,58],[7.42,65],[7.46,68],[7.5,67],[7.56,65],[7.63,63],[7.7,61],[7.77,59],[7.83,56],[7.88,49],[7.92,40],[7.96,29],[7.99,18],[8.015,7],[8.02,4]],
    [[7.271,4],[7.281,20],[7.301,36],[7.331,50],[7.37,61],[7.42,72],[7.48,81],[7.54,86],[7.6,87],[7.66,86],[7.71,82],[7.76,76],[7.81,68],[7.86,58],[7.9,48],[7.94,36],[7.98,22],[8.01,9],[8.02,4]]
];

const measuredHuzyOn = [
    [[8.02,4],[8.03,20],[8.05,36],[8.08,50],[8.12,62],[8.17,71],[8.23,77]],
    [[8.025,4],[8.035,19],[8.055,34],[8.085,47],[8.125,58],[8.17,66],[8.23,72]],
    [[8.02,4],[8.03,18],[8.05,32],[8.08,43],[8.12,52],[8.17,58],[8.23,62]],
    [[8.03,4],[8.04,18],[8.06,31],[8.09,41],[8.13,47],[8.18,48],[8.23,46]],
    [[8.025,4],[8.035,20],[8.055,35],[8.085,49],[8.125,60],[8.17,68],[8.23,75]],
    [[8.022,4],[8.032,20],[8.052,35],[8.082,48],[8.12,58],[8.17,64],[8.23,68]],
    [[8.028,4],[8.038,19],[8.058,33],[8.088,45],[8.128,55],[8.175,61],[8.23,65]],
    [[8.024,4],[8.034,20],[8.054,36],[8.084,50],[8.124,61],[8.17,70],[8.23,76]]
];

const callouts = [
    { lines: ['Acceleration now more realistic', '(no limitation anymore)'] },
    { lines: ['New Braking', 'curve between', 'RCS and NeTS'] },
    { lines: ['Due to the jerk restriction, the', 'new calculation per arrival', 'and departure is approx. 4', 'sec slower than without jerk.'] }
];

// ---------------------------------------------------------------

const COLORS = {
    blue: '#4e79a7',
    orange: '#f28e2b',
    yellow: '#edc948',
    red: '#e15759',
    purple: '#b07aa1',
    callout: '#a10018',
    grid: '#ececec'
};

const svg = d3.select('#chart');
const W = 2027, H = 1094;

const x = d3.scaleLinear().domain([0, 8]).range([214.6, 1939.4]);
const y = d3.scaleLinear().domain([0, 120]).range([982.5, 148.5]);

const plot = { left: 103, right: 1988, top: 118, bottom: 1028 };

svg.append('rect').attr('width', W).attr('height', H).attr('fill', '#fff');

svg.append('clipPath').attr('id', 'plot-clip')
    .append('rect')
    .attr('x', plot.left).attr('y', 0)
    .attr('width', plot.right - plot.left).attr('height', plot.bottom);

// Gridlines
const grid = svg.append('g');
grid.selectAll('line.h')
    .data(Y_TICKS.filter(d => d > 0))
    .enter().append('line')
    .attr('x1', plot.left).attr('x2', plot.right)
    .attr('y1', d => y(d)).attr('y2', d => y(d))
    .attr('stroke', COLORS.grid).attr('stroke-width', 1.2);

grid.selectAll('line.v')
    .data(X_TICKS)
    .enter().append('line')
    .attr('x1', d => x(d)).attr('x2', d => x(d))
    .attr('y1', plot.top).attr('y2', plot.bottom)
    .attr('stroke', d => d === 0 ? '#d4d4d4' : COLORS.grid)
    .attr('stroke-dasharray', d => d === 0 ? '2,2' : null)
    .attr('stroke-width', 1.2);

// zero line (dotted)
grid.append('line')
    .attr('x1', plot.left).attr('x2', plot.right)
    .attr('y1', y(0)).attr('y2', y(0))
    .attr('stroke', '#cfcfcf').attr('stroke-dasharray', '2,2').attr('stroke-width', 1.5);

// frame lines
svg.append('line')
    .attr('x1', plot.left).attr('x2', plot.left)
    .attr('y1', 112).attr('y2', H)
    .attr('stroke', '#d0d0d0').attr('stroke-width', 1.5);
svg.append('line')
    .attr('x1', 0).attr('x2', plot.right)
    .attr('y1', plot.bottom).attr('y2', plot.bottom)
    .attr('stroke', '#c4c4c4').attr('stroke-width', 2);

// Axes
const yAxis = svg.append('g')
    .attr('transform', `translate(${plot.left},0)`)
    .call(d3.axisLeft(y).tickValues(Y_TICKS).tickSize(0).tickPadding(13));
const xAxis = svg.append('g')
    .attr('transform', `translate(0,${plot.bottom})`)
    .call(d3.axisBottom(x).tickValues(X_TICKS).tickSize(0).tickPadding(13).tickFormat(d => d.toFixed(1)));

[yAxis, xAxis].forEach(g => {
    g.select('.domain').remove();
    g.selectAll('text')
        .attr('fill', '#a9a9a9')
        .attr('font-family', 'DejaVu Sans, sans-serif')
        .attr('font-size', '17px');
});
// first x label sits just inside the frame
xAxis.selectAll('.tick')
    .filter(d => d < 0)
    .select('text')
    .attr('dx', 18);

svg.append('text')
    .attr('transform', 'translate(31,547) rotate(-90)')
    .attr('text-anchor', 'middle')
    .attr('fill', '#555')
    .attr('font-family', 'Liberation Sans Narrow, Liberation Sans, sans-serif')
    .attr('font-size', '17px')
    .text('km/h');

svg.append('text')
    .attr('x', 1120).attr('y', 1087)
    .attr('text-anchor', 'middle')
    .attr('fill', '#666')
    .attr('font-family', 'Liberation Sans Narrow, Liberation Sans, sans-serif')
    .attr('font-size', '17px')
    .text('Km');

svg.append('text')
    .attr('x', 1997).attr('y', 1053)
    .attr('text-anchor', 'middle')
    .attr('fill', '#555')
    .attr('font-family', 'Liberation Sans Narrow, Liberation Sans, sans-serif')
    .attr('font-size', '17px')
    .text('12');

// Lines
const line = d3.line()
    .x(d => x(d[0]))
    .y(d => y(d[1]))
    .curve(d3.curveMonotoneX);

const lines = svg.append('g').attr('clip-path', 'url(#plot-clip)');

const measured = [
    measuredBaaBaan, measuredBaanBaal, measuredBaalZg, measuredZgZgse,
    measuredZgseKmue, measuredKmueChaa, measuredChaaCham, measuredChamHuzy, measuredHuzyOn
].flat();

lines.selectAll('path.measured')
    .data(measured)
    .enter().append('path')
    .attr('class', 'measured')
    .attr('d', line)
    .attr('fill', 'none')
    .attr('stroke', COLORS.blue)
    .attr('stroke-width', 2.6)
    .attr('stroke-linejoin', 'round');

lines.append('path')
    .datum(speedLimit)
    .attr('d', d3.line().x(d => x(d[0])).y(d => y(d[1])))
    .attr('fill', 'none')
    .attr('stroke', COLORS.purple)
    .attr('stroke-width', 3);

[[calcRed, COLORS.red, 4], [calcYellow, COLORS.yellow, 4.5], [calcOrange, COLORS.orange, 5]].forEach(([data, color, w]) => {
    lines.append('path')
        .datum(data)
        .attr('d', line)
        .attr('fill', 'none')
        .attr('stroke', color)
        .attr('stroke-width', w)
        .attr('stroke-linejoin', 'round');
});

// Station labels
svg.append('g').selectAll('text')
    .data(stationNames)
    .enter().append('text')
    .attr('x', (d, i) => x(stationLabelKm[i]))
    .attr('y', 1017)
    .attr('text-anchor', 'middle')
    .attr('fill', '#333')
    .attr('font-family', 'Liberation Sans Narrow, Liberation Sans, sans-serif')
    .attr('font-size', '36px')
    .text(d => d);

// Title block (red heading above is cut off by the page edge)
svg.append('text')
    .attr('x', 1043).attr('y', -4)
    .attr('fill', '#e3001b')
    .attr('font-family', 'Liberation Sans, sans-serif')
    .attr('font-size', '52px')
    .text('g');

const titleWidths = [376, 989, 1012];
svg.append('g').selectAll('text')
    .data(titleLines)
    .enter().append('text')
    .attr('x', 106)
    .attr('y', (d, i) => 45 + i * 40)
    .attr('fill', '#4a4a4a')
    .attr('font-family', 'Liberation Sans Narrow, Liberation Sans, sans-serif')
    .attr('font-size', '33px')
    .attr('textLength', (d, i) => titleWidths[i])
    .attr('lengthAdjust', 'spacingAndGlyphs')
    .text(d => d);

// Callouts: box, pointer, text
const calloutLayout = [
    { box: [278, 200, 349, 89], tip: [[482, 288], [572, 288], [588, 380]], cx: 452, base: 239, step: 31 },
    { box: [1203, 3, 202, 96], tip: [[1235, 98], [1290, 98], [1159, 178]], cx: 1304, base: 27, step: 26 },
    { box: [987, 783, 334, 130], tip: [[1042, 912], [1125, 912], [915, 968]], cx: 1154, base: 812, step: 30 }
];

callouts.forEach((c, i) => {
    const L = calloutLayout[i];
    const g = svg.append('g');
    g.append('rect')
        .attr('x', L.box[0]).attr('y', L.box[1])
        .attr('width', L.box[2]).attr('height', L.box[3])
        .attr('fill', COLORS.callout);
    g.append('polygon')
        .attr('points', L.tip.map(p => p.join(',')).join(' '))
        .attr('fill', COLORS.callout);
    g.selectAll('text')
        .data(c.lines)
        .enter().append('text')
        .attr('x', L.cx)
        .attr('y', (d, j) => L.base + j * L.step)
        .attr('text-anchor', 'middle')
        .attr('fill', '#fff')
        .attr('font-family', 'Liberation Sans, sans-serif')
        .attr('font-size', i === 1 ? '23px' : '24px')
        .text(d => d);
});
</script>
</body>
</html>
